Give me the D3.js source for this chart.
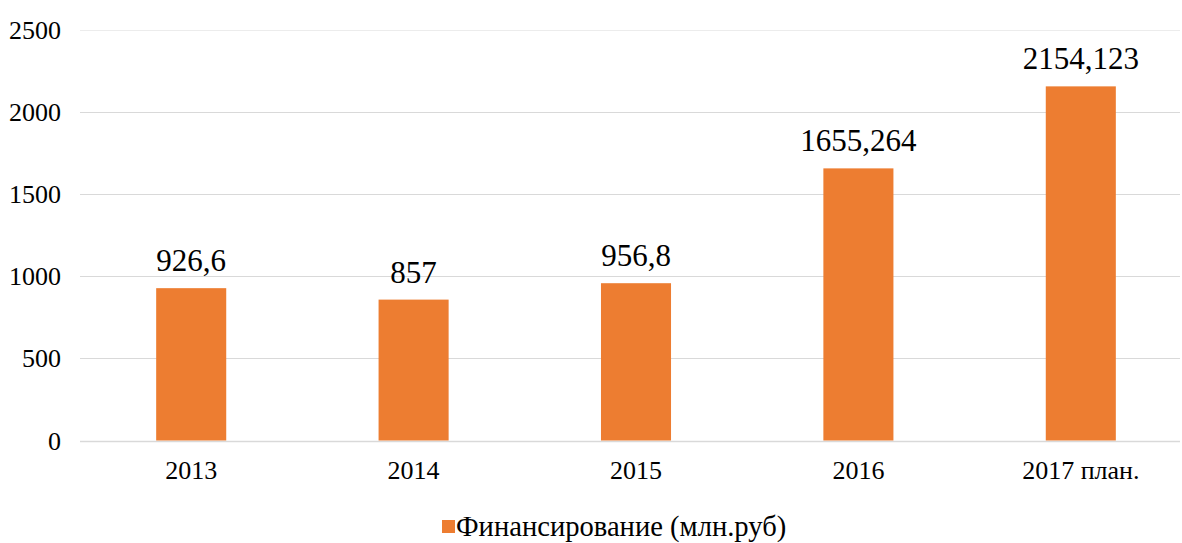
<!DOCTYPE html>
<html>
<head>
<meta charset="utf-8">
<script src="https://cdn.jsdelivr.net/npm/d3@7"></script>
<style>
  body { margin: 0; background: #fff; }
  #chart { width: 1182px; height: 543px; }
  text { font-family: "Liberation Serif", "Times New Roman", serif; fill: #000; }
</style>
</head>
<body>
<div id="chart"></div>
<script>
var categories = ["2013", "2014", "2015", "2016", "2017 план."];
var values = [926.6, 857, 956.8, 1655.264, 2154.123];
var labels = ["926,6", "857", "956,8", "1655,264", "2154,123"];
var yTicks = [0, 500, 1000, 1500, 2000, 2500];
var seriesName = "Финансирование (млн.руб)";

var width = 1182, height = 543;
var plotLeft = 80, plotRight = 1192, plotTop = 29.5, plotBottom = 440.5;

var svg = d3.select("#chart").append("svg")
    .attr("width", width)
    .attr("height", height);

var x = d3.scaleBand()
    .domain(categories)
    .range([plotLeft, plotRight])
    .paddingInner(0.685)
    .paddingOuter(0.3425);

var y = d3.scaleLinear()
    .domain([0, 2500])
    .range([plotBottom, plotTop]);

// gridlines
svg.append("g")
  .selectAll("line")
  .data(yTicks)
  .enter().append("line")
    .attr("x1", plotLeft)
    .attr("x2", 1180)
    .attr("y1", function(d) { return Math.round(y(d)) + 0.5; })
    .attr("y2", function(d) { return Math.round(y(d)) + 0.5; })
    .attr("stroke", function(d) { return d === 2500 ? "#ececec" : "#d9d9d9"; })
    .attr("stroke-width", function(d) { return d === 0 ? 1.5 : 1; });

// y tick labels
svg.append("g")
  .selectAll("text")
  .data(yTicks)
  .enter().append("text")
    .attr("x", 61)
    .attr("y", function(d) { return y(d); })
    .attr("dy", "0.35em")
    .attr("text-anchor", "end")
    .style("font-size", "26px")
    .text(function(d) { return d; });

// bars
svg.append("g")
  .selectAll("rect")
  .data(values)
  .enter().append("rect")
    .attr("x", function(d, i) { return x(categories[i]); })
    .attr("y", function(d) { return y(d); })
    .attr("width", x.bandwidth())
    .attr("height", function(d) { return plotBottom - y(d); })
    .attr("fill", "#ed7d31");

// value labels
svg.append("g")
  .selectAll("text")
  .data(values)
  .enter().append("text")
    .attr("x", function(d, i) { return x(categories[i]) + x.bandwidth() / 2; })
    .attr("y", function(d) { return y(d) - 17; })
    .attr("text-anchor", "middle")
    .style("font-size", "31px")
    .text(function(d, i) { return labels[i]; });

// category labels
svg.append("g")
  .selectAll("text")
  .data(categories)
  .enter().append("text")
    .attr("x", function(d) { return x(d) + x.bandwidth() / 2; })
    .attr("y", 479)
    .attr("text-anchor", "middle")
    .style("font-size", "26px")
    .text(function(d) { return d; });

// legend
var legend = svg.append("g");
legend.append("rect")
    .attr("x", 442)
    .attr("y", 520)
    .attr("width", 13)
    .attr("height", 13)
    .attr("fill", "#ed7d31");
legend.append("text")
    .attr("x", 456)
    .attr("y", 536)
    .style("font-size", "28.6px")
    .text(seriesName);
</script>
</body>
</html>
